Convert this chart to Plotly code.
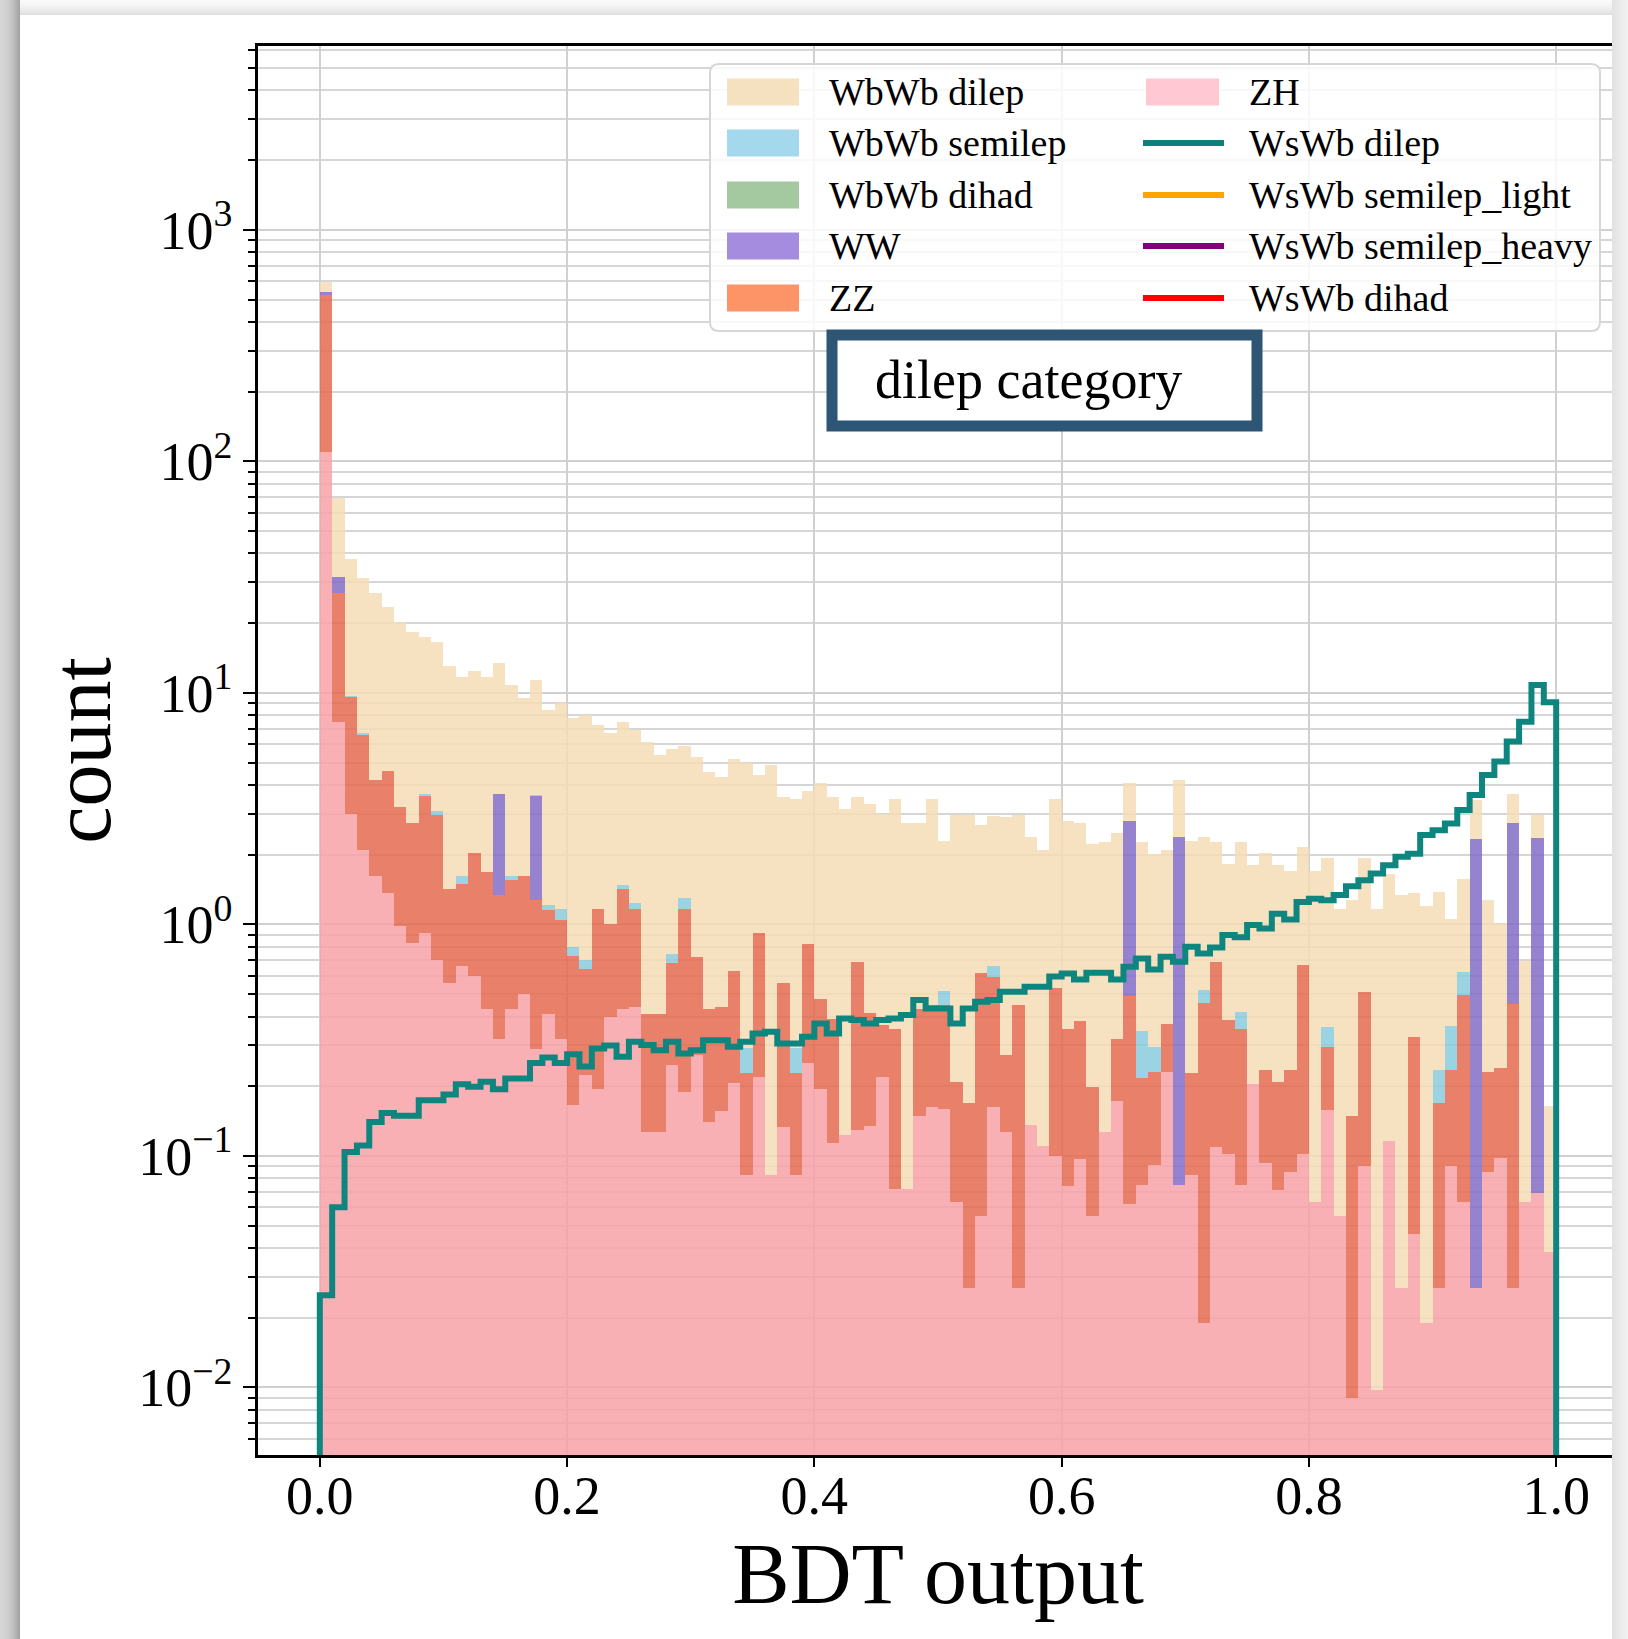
import plotly.graph_objects as go

# ---------------- data ----------------
N_BINS = 100
BIN_WIDTH = 0.01
bin_centers = [round((i + 0.5) * BIN_WIDTH, 4) for i in range(N_BINS)]
bin_edges = [round(i * BIN_WIDTH, 4) for i in range(N_BINS + 1)]

ZH = [110, 7.5, 3.0, 2.1, 1.62, 1.37, 0.98, 0.83, 0.92, 0.70,
      0.56, 0.66, 0.60, 0.43, 0.32, 0.43, 0.50, 0.29, 0.41, 0.32,
      0.166, 0.223, 0.194, 0.40, 0.43, 0.44, 0.127, 0.127, 0.247, 0.189,
      0.272, 0.140, 0.156, 0.207, 0.083, 0.220, 0.083, 0.133, 0.083, 0.251,
      0.194, 0.114, 0.123, 0.129, 0.134, 0.220, 0.072, 0.072, 0.149, 0.163,
      0.160, 0.063, 0.027, 0.055, 0.163, 0.127, 0.027, 0.136, 0.110, 0.100,
      0.074, 0.097, 0.055, 0.127, 0.173, 0.062, 0.075, 0.091, 0.231, 0.075,
      0.083, 0.019, 0.109, 0.102, 0.075, 0.204, 0.093, 0.071, 0.085, 0.102,
      0.063, 0.158, 0.055, 0.009, 0.090, 0.0097, 0.116, 0.027, 0.046, 0.019,
      0.027, 0.090, 0.063, 0.027, 0.085, 0.098, 0.027, 0.063, 0.069, 0.0385]

ZZ = [413, 19.4, 6.6, 4.5, 2.58, 3.23, 2.22, 1.92, 2.68, 2.27,
      0.86, 0.83, 1.43, 1.26, 1.02, 1.13, 1.12, 0.98, 0.74, 0.72,
      0.564, 0.417, 0.966, 0.60, 0.99, 0.73, 0.283, 0.283, 0.433, 0.981,
      0.448, 0.29, 0.284, 0.423, 0.144, 0.70, 0.0, 0.423, 0.144, 0.571,
      0.28, 0.278, 0.0, 0.56, 0.279, 0.147, 0.283, 0.0, 0.284, 0.285,
      0.29, 0.146, 0.143, 0.559, 0.431, 0.145, 0.421, 0.0, 0.0, 0.429,
      0.281, 0.286, 0.144, 0.0, 0.146, 0.428, 0.141, 0.14, 0.142, 0.0,
      0.145, 0.437, 0.581, 0.284, 0.28, 0.0, 0.141, 0.138, 0.149, 0.565,
      0.0, 0.138, 0.0, 0.139, 0.422, 0.0, 0.0, 0.0, 0.281, 0.0,
      0.142, 0.144, 0.432, 0.0, 0.146, 0.141, 0.426, 0.0, 0.0, 0.0]

WW = [13.8, 4.6, 0, 0, 0, 0, 0, 0, 0, 0,
      0, 0, 0, 0, 2.3, 0, 0, 2.3, 0, 0,
      0, 0, 0, 0, 0, 0, 0, 0, 0, 0,
      0, 0, 0, 0, 0, 0, 0, 0, 0, 0,
      0, 0, 0, 0, 0, 0, 0, 0, 0, 0,
      0, 0, 0, 0, 0, 0, 0, 0, 0, 0,
      0, 0, 0, 0, 0, 2.3, 0, 0, 0, 2.3,
      0, 0, 0, 0, 0, 0, 0, 0, 0, 0,
      0, 0, 0, 0, 0, 0, 0, 0, 0, 0,
      0, 0, 0, 2.3, 0, 0, 2.3, 0, 2.3, 0]

WBWB_DIHAD = [0.0] * N_BINS  # no visible contribution in any bin

WBWB_SEMILEP = [0, 0, 0.13, 0.13, 0, 0, 0, 0, 0.065, 0.13,
                0, 0.13, 0, 0, 0, 0.065, 0, 0.065, 0.065, 0.13,
                0.065, 0.065, 0, 0, 0.065, 0.065, 0, 0, 0.065, 0.13,
                0, 0, 0, 0, 0.065, 0, 0, 0, 0.065, 0,
                0, 0, 0, 0, 0, 0, 0, 0, 0, 0,
                0.065, 0, 0, 0, 0.065, 0, 0, 0, 0, 0,
                0, 0, 0, 0, 0, 0, 0.13, 0.065, 0, 0,
                0, 0.065, 0, 0, 0.065, 0, 0, 0, 0, 0,
                0, 0.065, 0, 0, 0, 0, 0, 0, 0, 0,
                0.065, 0.13, 0.13, 0, 0, 0, 0, 0, 0, 0]

WBWB_DILEP = [60.2, 38.1, 28.0, 24.5, 22.7, 18.8, 17.1, 15.65, 13.8, 13.5,
              11.7, 10.1, 10.4, 10.0, 9.86, 9.18, 7.88, 7.77, 7.19, 7.83,
              7.0, 7.3, 6.14, 5.68, 6.0, 5.67, 5.74, 4.98, 5.0, 4.59,
              4.58, 4.13, 3.87, 4.53, 4.67, 3.50, 4.80, 3.00, 3.19, 2.94,
              3.59, 3.15, 3.02, 2.87, 2.89, 2.64, 3.12, 2.68, 2.32, 3.02,
              1.77, 2.76, 2.80, 2.06, 2.28, 2.63, 2.52, 2.25, 1.98, 2.94,
              2.45, 2.35, 2.02, 2.15, 2.15, 1.27, 1.93, 1.72, 1.72, 1.83,
              2.07, 1.87, 1.59, 1.44, 1.86, 1.60, 1.79, 1.59, 1.47, 1.49,
              1.64, 1.57, 1.11, 1.12, 1.42, 1.16, 1.54, 1.31, 1.04, 1.18,
              1.14, 0.69, 0.94, 1.11, 1.04, 0.77, 0.90, 0.63, 0.60, 0.126]

WSWB_DILEP = [0.025, 0.060, 0.104, 0.111, 0.140, 0.153, 0.149, 0.149, 0.174, 0.174,
              0.184, 0.204, 0.199, 0.209, 0.194, 0.216, 0.216, 0.252, 0.266, 0.252,
              0.275, 0.243, 0.291, 0.300, 0.268, 0.311, 0.301, 0.286, 0.311, 0.277,
              0.286, 0.316, 0.316, 0.296, 0.311, 0.338, 0.344, 0.306, 0.306, 0.327,
              0.373, 0.338, 0.392, 0.386, 0.373, 0.386, 0.392, 0.406, 0.471, 0.433,
              0.433, 0.373, 0.433, 0.463, 0.471, 0.512, 0.512, 0.538, 0.538, 0.595,
              0.614, 0.578, 0.618, 0.618, 0.578, 0.656, 0.712, 0.638, 0.724, 0.689,
              0.800, 0.748, 0.795, 0.899, 0.880, 0.993, 0.960, 1.11, 1.05, 1.25,
              1.29, 1.27, 1.34, 1.46, 1.55, 1.66, 1.80, 1.96, 2.02, 2.43,
              2.55, 2.73, 3.12, 3.62, 4.42, 5.05, 6.16, 7.5, 10.8, 9.1]

X_TICKS = [0.0, 0.2, 0.4, 0.6, 0.8, 1.0]
X_TICK_TEXT = ["0.0", "0.2", "0.4", "0.6", "0.8", "1.0"]
Y_TICKS = [1e-2, 1e-1, 1e0, 1e1, 1e2, 1e3]
Y_TICK_TEXT = ["10<sup>\u22122</sup>", "10<sup>\u22121</sup>", "10<sup>0</sup>",
               "10<sup>1</sup>", "10<sup>2</sup>", "10<sup>3</sup>"]

# ---------------- styling ----------------
FONT = "Liberation Serif"
W, H = 1628, 1639
L_PX, R_PX, T_PX, B_PX = 258, 1618, 46, 1455


def X(px):
    return (px - L_PX) / (R_PX - L_PX)


def Y(py):
    return (B_PX - py) / (B_PX - T_PX)


stack = [
    ("ZH", ZH, "rgba(248,162,168,0.85)"),
    ("ZZ", ZZ, "rgba(228,106,80,0.85)"),
    ("WW", WW, "rgba(130,109,199,0.85)"),
    ("WbWb dihad", WBWB_DIHAD, "rgba(143,188,143,0.85)"),
    ("WbWb semilep", WBWB_SEMILEP, "rgba(139,203,222,0.85)"),
    ("WbWb dilep", WBWB_DILEP, "rgba(244,221,181,0.85)"),
]

fig = go.Figure()
for name, vals, color in stack:
    fig.add_trace(go.Bar(
        x=bin_centers, y=vals, width=BIN_WIDTH, name=name,
        marker=dict(color=color, line=dict(width=0)), showlegend=False))

# step outline of the signal histogram
BASE = 1e-4
step_x = [bin_edges[0]] + bin_edges[:-1] + [bin_edges[-1], bin_edges[-1]]
step_y = [BASE] + WSWB_DILEP + [WSWB_DILEP[-1], BASE]
fig.add_trace(go.Scatter(
    x=step_x, y=step_y, mode="lines", name="WsWb dilep",
    line=dict(color="#0f8580", width=6, shape="hv"), showlegend=False))

shapes = []
annotations = []

# page drop-shadow frame
for i in range(20):
    g = int(214 - 52 * (i / 19) ** 2)
    shapes.append(dict(type="rect", xref="paper", yref="paper", layer="above",
                       x0=X(i), x1=X(i + 1), y0=Y(H), y1=Y(0),
                       line=dict(width=0), fillcolor=f"rgb({g},{g},{g})"))
for j in range(15):
    g = int(250 - 26 * (j / 14) ** 1.5)
    shapes.append(dict(type="rect", xref="paper", yref="paper", layer="above",
                       x0=X(20), x1=X(1612), y0=Y(j + 1), y1=Y(j),
                       line=dict(width=0), fillcolor=f"rgb({g},{g},{g})"))
for i in range(16):
    g = int(226 + 16 * (i / 15))
    shapes.append(dict(type="rect", xref="paper", yref="paper", layer="above",
                       x0=X(1612 + i), x1=X(1613 + i), y0=Y(H), y1=Y(0),
                       line=dict(width=0), fillcolor=f"rgb({g},{g},{g})"))

# legend frame (rounded)
lx0, lx1, ly0, ly1, r = 710, 1600, 64, 331, 9
path = (f"M {X(lx0 + r)},{Y(ly0)} L {X(lx1 - r)},{Y(ly0)} "
        f"Q {X(lx1)},{Y(ly0)} {X(lx1)},{Y(ly0 + r)} L {X(lx1)},{Y(ly1 - r)} "
        f"Q {X(lx1)},{Y(ly1)} {X(lx1 - r)},{Y(ly1)} L {X(lx0 + r)},{Y(ly1)} "
        f"Q {X(lx0)},{Y(ly1)} {X(lx0)},{Y(ly1 - r)} L {X(lx0)},{Y(ly0 + r)} "
        f"Q {X(lx0)},{Y(ly0)} {X(lx0 + r)},{Y(ly0)} Z")
shapes.append(dict(type="path", path=path, xref="paper", yref="paper", layer="above",
                   fillcolor="rgba(255,255,255,0.82)", line=dict(color="#d6d6d6", width=2)))

rows = [92, 143, 195, 246, 298]
col1 = [("WbWb dilep", "#f5e0c0"), ("WbWb semilep", "#a4d8ec"), ("WbWb dihad", "#a4c8a0"),
        ("WW", "#a68cde"), ("ZZ", "#fd9468")]
col2 = [("ZH", "#ffc8d2", "patch"), ("WsWb dilep", "#107f7c", "line"),
        ("WsWb semilep_light", "#ffa500", "line"), ("WsWb semilep_heavy", "#800080", "line"),
        ("WsWb dihad", "#ff0000", "line")]

for (label, col), yc in zip(col1, rows):
    shapes.append(dict(type="rect", xref="paper", yref="paper", layer="above",
                       x0=X(727), x1=X(799), y0=Y(yc + 13.5), y1=Y(yc - 13.5),
                       line=dict(width=0), fillcolor=col))
    annotations.append(dict(x=X(827), y=Y(yc), xref="paper", yref="paper", text=label,
                            showarrow=False, xanchor="left", yanchor="middle",
                            font=dict(family=FONT, size=38, color="black")))
for (label, col, kind), yc in zip(col2, rows):
    if kind == "patch":
        shapes.append(dict(type="rect", xref="paper", yref="paper", layer="above",
                           x0=X(1146), x1=X(1219), y0=Y(yc + 13.5), y1=Y(yc - 13.5),
                           line=dict(width=0), fillcolor=col))
    else:
        shapes.append(dict(type="line", xref="paper", yref="paper", layer="above",
                           x0=X(1143), x1=X(1224), y0=Y(yc), y1=Y(yc),
                           line=dict(color=col, width=6)))
    annotations.append(dict(x=X(1247), y=Y(yc), xref="paper", yref="paper", text=label,
                            showarrow=False, xanchor="left", yanchor="middle",
                            font=dict(family=FONT, size=38, color="black")))

# category box
shapes.append(dict(type="rect", xref="paper", yref="paper", layer="above",
                   x0=X(832), x1=X(1257), y0=Y(426), y1=Y(335),
                   fillcolor="white", line=dict(color="#2f5575", width=11)))
annotations.append(dict(x=X(1028), y=Y(380), xref="paper", yref="paper",
                        text="dilep category", showarrow=False,
                        xanchor="center", yanchor="middle",
                        font=dict(family=FONT, size=54, color="black")))

fig.update_layout(
    width=W, height=H, autosize=False,
    margin=dict(l=L_PX, r=W - R_PX, t=T_PX, b=H - B_PX, pad=0),
    paper_bgcolor="white", plot_bgcolor="white",
    barmode="stack", bargap=0, showlegend=False,
    shapes=shapes, annotations=annotations,
    font=dict(family=FONT, color="black"),
)

fig.update_xaxes(
    range=[-0.05, 1.05], tickmode="array", tickvals=X_TICKS, ticktext=X_TICK_TEXT,
    ticks="outside", ticklen=9, tickwidth=2, tickcolor="black", ticklabelstandoff=-18,
    showline=True, linewidth=2.5, linecolor="black", mirror=True,
    showgrid=True, gridcolor="#d0d0d0", gridwidth=2, zeroline=False,
    tickfont=dict(family=FONT, size=54, color="black"), layer="above traces",
    title=dict(text="BDT output", font=dict(family=FONT, size=86, color="black"), standoff=0),
    automargin=False,
)
fig.update_yaxes(
    type="log", range=[-2.292, 3.794], tickmode="array", tickvals=Y_TICKS, ticktext=Y_TICK_TEXT,
    ticks="outside", ticklen=12, tickwidth=2, tickcolor="black",
    showline=True, linewidth=2.5, linecolor="black", mirror=False,
    showgrid=True, gridcolor="#d0d0d0", gridwidth=2, zeroline=False,
    minor=dict(dtick="D1", ticks="outside", ticklen=7, tickwidth=1.5, tickcolor="black",
               showgrid=True, gridcolor="#d6d6d6", gridwidth=2),
    tickfont=dict(family=FONT, size=54, color="black"), layer="above traces",
    title=dict(text="count", font=dict(family=FONT, size=84, color="black"), standoff=0),
    automargin=False,
)

fig.write_html("out.html")
